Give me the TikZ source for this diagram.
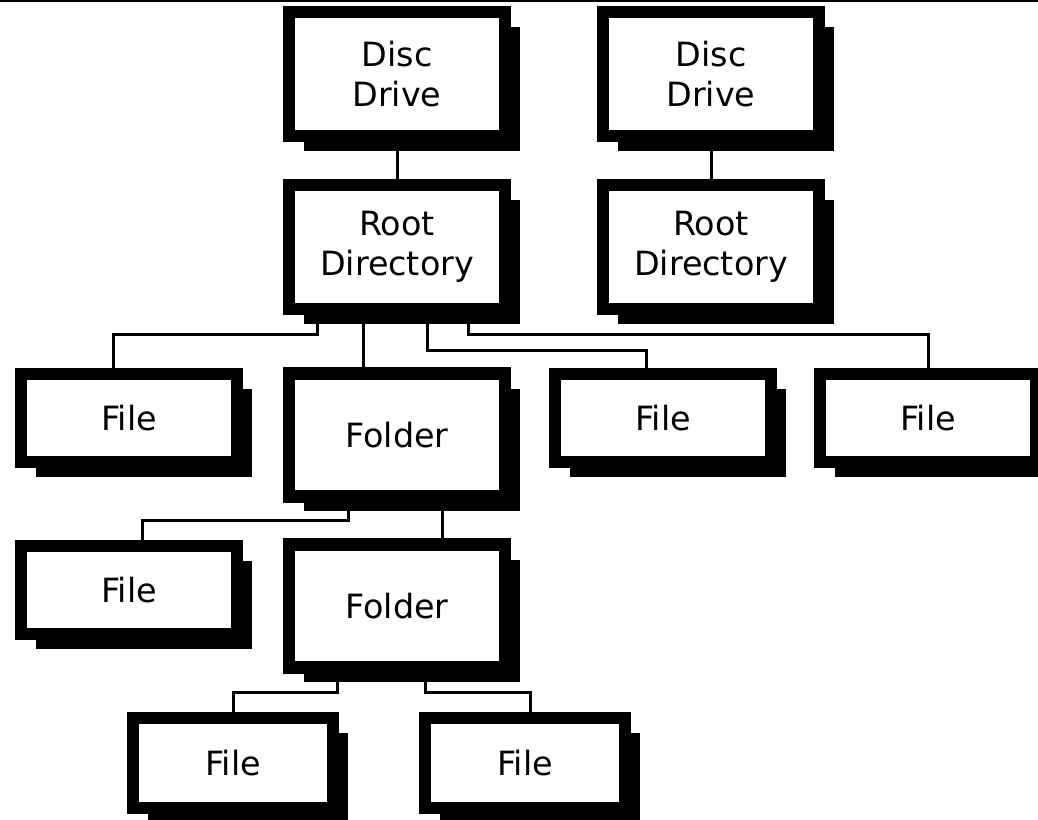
\documentclass[tikz,border=0pt]{standalone}
\usepackage{fontspec}
\setmainfont{DejaVu Sans}
\usetikzlibrary{calc,shadows,backgrounds}

\begin{document}
\begin{tikzpicture}[
  x=0.02cm, y=-0.02cm,
  every node/.style={font=\fontsize{19}{23}\selectfont},
  box/.style={draw, line width=0.25cm, fill=white, align=center,
              minimum width=4.32cm, inner sep=0pt,
              drop shadow={shadow xshift=0.3cm, shadow yshift=-0.3cm,
                           opacity=1, fill=black}},
  tall/.style={box, minimum height=2.48cm},
  folder/.style={box, minimum height=2.46cm},
  file/.style={box, minimum height=1.76cm},
  leaf/.style={box, minimum width=4cm, minimum height=1.8cm},
  link/.style={line width=0.06cm},
]
\useasboundingbox (0,0) rectangle (1038,819);

% Top rule
\draw[line width=0.04cm] (0,1) -- (1038,1);

% Disc drives
\node[tall] (disc1) at (397,74) {Disc\\Drive};
\node[tall] (disc2) at (711,74) {Disc\\Drive};

% Root directories
\node[tall] (root1) at (397,247) {Root\\Directory};
\node[tall] (root2) at (711,247) {Root\\Directory};

% First level
\node[file] (file1) at (129,418) {File};
\node[folder] (folder1) at (397,435) {Folder};
\node[file] (file2) at (663,418) {File};
\node[file] (file3) at (928,418) {File};

% Second level
\node[file] (file4) at (129,590) {File};
\node[folder] (folder2) at (397,606) {Folder};

% Third level
\node[leaf] (file5) at (233,763) {File};
\node[leaf] (file6) at (525,763) {File};

% Edges
\begin{scope}[on background layer]
\draw[link] (disc1) -- (root1);
\draw[link] (disc2) -- (root2);
\draw[link] ($(root1.south)+(-80,0)$) -- ++(0,19) -| ($(file1.north)+(-16,0)$);
\draw[link] ($(root1.south)+(-34,0)$) -- ($(folder1.north)+(-34,0)$);
\draw[link] ($(root1.south)+(30,0)$) -- ++(0,35) -| ($(file2.north)+(-17,0)$);
\draw[link] ($(root1.south)+(71,0)$) -- ++(0,19) -| (file3.north);
\draw[link] ($(folder1.south)+(-49,0)$) -- ++(0,18) -| ($(file4.north)+(13,0)$);
\draw[link] ($(folder1.south)+(45,0)$) -- ($(folder2.north)+(45,0)$);
\draw[link] ($(folder2.south)+(-60,0)$) -- ++(0,19) -| (file5.north);
\draw[link] ($(folder2.south)+(28,0)$) -- ++(0,19) -| ($(file6.north)+(5,0)$);
\end{scope}

\end{tikzpicture}
\end{document}
